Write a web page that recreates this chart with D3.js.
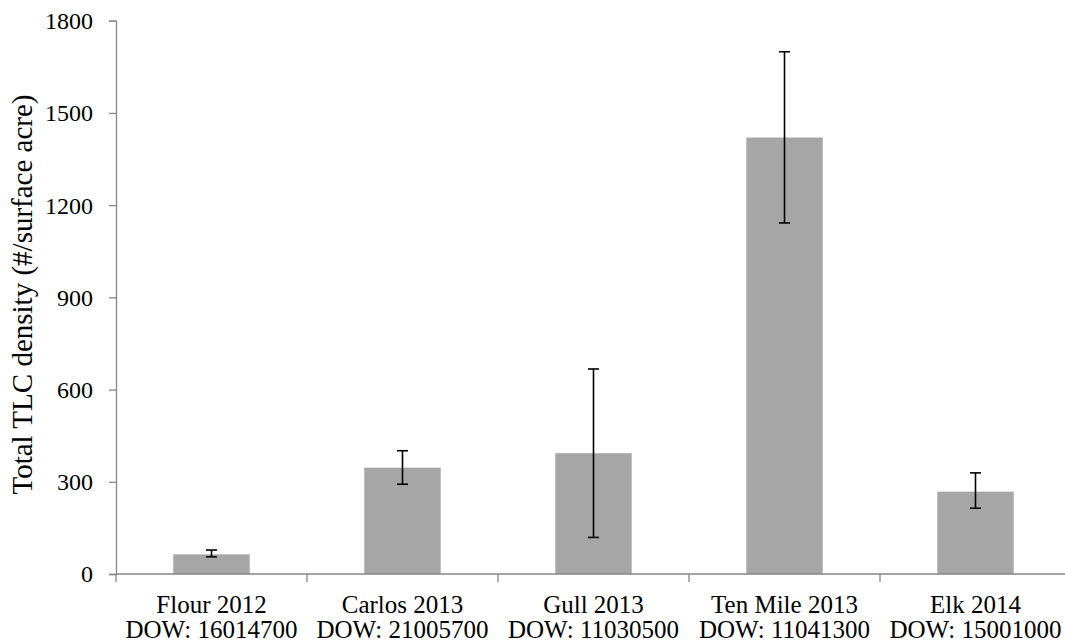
<!DOCTYPE html>
<html>
<head>
<meta charset="utf-8">
<script src="https://cdn.jsdelivr.net/npm/d3@7"></script>
</head>
<body style="margin:0; background:#fff">
<div id="chart"></div>
<script>
// chart data
const lakes = ["Flour 2012", "Carlos 2013", "Gull 2013", "Ten Mile 2013", "Elk 2014"];
const dowIds = ["DOW: 16014700", "DOW: 21005700", "DOW: 11030500", "DOW: 11041300", "DOW: 15001000"];
const density = [64, 346, 393, 1420, 268];
const errLow = [56, 292, 119, 1142, 214];
const errHigh = [78, 401, 667, 1699, 329];
const yTicks = [0, 300, 600, 900, 1200, 1500, 1800];

const width = 1065, height = 644;
const margins = { top: 20.7, bottom: 70, left: 116, right: -6 };
const serif = "'Liberation Serif'";

const svg = d3.select("#chart")
    .append("svg")
    .attr("width", width)
    .attr("height", height);

// scales
const xScale = d3.scaleBand()
    .domain(lakes)
    .range([margins.left, width - margins.right])
    .paddingInner(0.6)
    .paddingOuter(0.3);

const yScale = d3.scaleLinear()
    .domain([0, 1800])
    .range([574, margins.top]);

const axisColor = "#868686";

// y axis
const yAxis = svg.append("g")
    .attr("transform", `translate(${margins.left},0)`)
    .call(d3.axisLeft(yScale).tickValues(yTicks).tickFormat(d3.format("d")).tickSize(7).tickPadding(16));
yAxis.select(".domain").attr("stroke", axisColor).attr("stroke-width", 1.3);
yAxis.selectAll(".tick line").attr("stroke", axisColor).attr("stroke-width", 1.3);
yAxis.selectAll(".tick text")
    .attr("dy", "0.33em")
    .style("font-family", serif)
    .style("font-size", "24px")
    .style("fill", "#000");

// bars
svg.selectAll("rect.bar")
    .data(lakes)
    .enter().append("rect")
    .attr("class", "bar")
    .attr("x", d => xScale(d))
    .attr("width", xScale.bandwidth())
    .attr("y", (d, i) => yScale(density[i]))
    .attr("height", (d, i) => yScale(0) - yScale(density[i]))
    .attr("fill", "#a6a6a6");

// x axis
const bandStep = xScale.step();
const xLine = svg.append("g");
xLine.append("line")
    .attr("x1", margins.left).attr("x2", width)
    .attr("y1", yScale(0)).attr("y2", yScale(0))
    .attr("stroke", axisColor).attr("stroke-width", 1.3);
const boundaries = d3.range(lakes.length + 1).map(i => margins.left + i * bandStep);
xLine.selectAll("line.tick")
    .data(boundaries)
    .enter().append("line")
    .attr("class", "tick")
    .attr("x1", d => d).attr("x2", d => d)
    .attr("y1", yScale(0)).attr("y2", yScale(0) + 8)
    .attr("stroke", axisColor).attr("stroke-width", 1.3);

// category labels
const labels = svg.selectAll("g.xlabel")
    .data(lakes)
    .enter().append("g")
    .attr("class", "xlabel")
    .attr("transform", d => `translate(${xScale(d) + xScale.bandwidth() / 2},0)`);
labels.append("text")
    .attr("y", 613)
    .attr("text-anchor", "middle")
    .style("font-family", serif)
    .style("font-size", "25px")
    .text(d => d);
labels.append("text")
    .attr("y", 638)
    .attr("text-anchor", "middle")
    .style("font-family", serif)
    .style("font-size", "25px")
    .text((d, i) => dowIds[i]);

// error bars
const capHalf = 5.5;
const errG = svg.selectAll("g.err")
    .data(lakes)
    .enter().append("g")
    .attr("class", "err")
    .attr("stroke", "#000")
    .attr("stroke-width", 1.6);
errG.append("line")
    .attr("x1", d => xScale(d) + xScale.bandwidth() / 2)
    .attr("x2", d => xScale(d) + xScale.bandwidth() / 2)
    .attr("y1", (d, i) => yScale(errLow[i]))
    .attr("y2", (d, i) => yScale(errHigh[i]));
errG.append("line")
    .attr("x1", d => xScale(d) + xScale.bandwidth() / 2 - capHalf)
    .attr("x2", d => xScale(d) + xScale.bandwidth() / 2 + capHalf)
    .attr("y1", (d, i) => yScale(errLow[i]))
    .attr("y2", (d, i) => yScale(errLow[i]));
errG.append("line")
    .attr("x1", d => xScale(d) + xScale.bandwidth() / 2 - capHalf)
    .attr("x2", d => xScale(d) + xScale.bandwidth() / 2 + capHalf)
    .attr("y1", (d, i) => yScale(errHigh[i]))
    .attr("y2", (d, i) => yScale(errHigh[i]));

// y axis title
svg.append("text")
    .attr("transform", `translate(32,294.5) rotate(-90)`)
    .attr("text-anchor", "middle")
    .style("font-family", serif)
    .style("font-size", "29px")
    .text("Total TLC density (#/surface acre)");
</script>
</body>
</html>
